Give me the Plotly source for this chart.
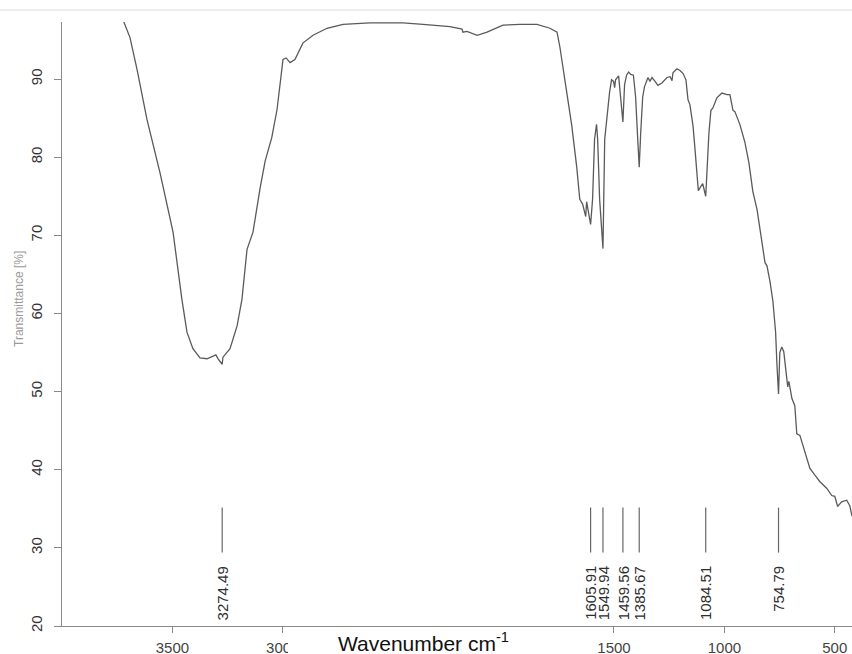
import plotly.graph_objects as go

# IR spectrum: wavenumber (cm-1) and transmittance (%)
wavenumber = [
    3990, 3760, 3724, 3692, 3660, 3615, 3556, 3497, 3457, 3434, 3407, 3375, 3343,
    3316, 3303, 3293, 3274.5, 3271, 3239, 3207, 3185, 3162, 3135, 3103, 3080,
    3050, 3026, 2999, 2985, 2967, 2945, 2909, 2863, 2800, 2727, 2605, 2456,
    2365, 2243, 2188, 2184, 2166, 2120, 2075, 2003, 1926, 1849, 1790, 1758,
    1745, 1732, 1714, 1691, 1669, 1655, 1642, 1628, 1624, 1605.9, 1597, 1588,
    1579, 1574, 1565, 1549.9, 1542, 1533, 1520, 1511, 1502, 1497, 1493, 1479,
    1468, 1459.6, 1452, 1443, 1434, 1424, 1412, 1402, 1393, 1385.7, 1379, 1370,
    1362, 1355, 1346, 1337, 1328, 1314, 1301, 1283, 1260, 1246, 1237, 1233,
    1215, 1201, 1187, 1174, 1165, 1156, 1142, 1133, 1124, 1118, 1108, 1098,
    1084.5, 1078, 1070, 1061, 1052, 1034, 1011, 988, 975, 961, 952, 930, 907,
    889, 875, 871, 852, 830, 816, 807, 793, 780, 768, 762, 757, 754.8, 749,
    740, 731, 722, 713, 708, 694, 681, 672, 658, 636, 613, 590, 568, 536, 514,
    500, 487, 469, 446, 432, 423, 410,
]
transmittance = [
    99.8, 99.0, 97.6, 95.3, 91.2, 84.8, 78.0, 70.4, 61.8, 57.6, 55.5, 54.3, 54.2,
    54.6, 54.7, 54.2, 53.5, 54.4, 55.5, 58.4, 61.8, 68.2, 70.4, 76.0, 79.5,
    82.5, 86.1, 92.5, 92.7, 92.1, 92.5, 94.6, 95.6, 96.5, 97.0, 97.2, 97.2,
    97.0, 96.7, 96.4, 96.0, 96.1, 95.6, 96.0, 96.9, 97.0, 97.0, 96.5, 96.0,
    94.1, 91.6, 88.3, 84.0, 78.8, 74.6, 74.0, 72.4, 74.3, 71.4, 74.6, 82.3,
    84.2, 82.3, 74.6, 68.3, 82.3, 85.2, 88.3, 89.9, 89.7, 88.9, 89.9, 90.4,
    87.3, 84.5, 89.3, 90.5, 90.9, 90.6, 90.5, 87.7, 82.6, 78.7, 83.1, 87.7,
    89.0, 89.5, 90.2, 89.7, 90.2, 89.7, 89.2, 89.5, 90.2, 90.3, 89.8, 90.8,
    91.3, 91.1, 90.7, 89.9, 87.4, 86.7, 84.0, 81.0, 78.1, 75.7, 76.2, 76.6,
    75.0, 78.8, 83.1, 86.0, 86.3, 87.6, 88.2, 88.0, 88.0, 86.0, 85.8, 84.2, 81.9,
    79.3, 75.9, 75.6, 73.3, 69.5, 66.5, 66.1, 64.0, 61.5, 57.6, 53.5, 50.5, 49.7, 55.0,
    55.7, 55.1, 52.5, 50.6, 51.3, 49.1, 48.2, 44.6, 44.4, 42.3, 40.2, 39.3, 38.5, 37.6, 36.7,
    36.6, 35.3, 35.9, 36.1, 35.4, 34.2, 33.5,
]

# Labelled absorption bands
peak_positions = [3274.49, 1605.91, 1549.94, 1459.56, 1385.67, 1084.51, 754.79]
peak_labels = ["3274.49", "1605.91", "1549.94", "1459.56", "1385.67", "1084.51", "754.79"]
marker_top = 35.15
marker_bottom = 29.4
label_top = 27.9

# the 2500 and 2000 labels sit under the caption strip, so they are left blank
x_ticks = [3500, 3000, 2500, 2000, 1500, 1000, 500]
x_tick_text = ["3500", "3000", "", "", "1500", "1000", "500"]
y_ticks = [20, 30, 40, 50, 60, 70, 80, 90]

W, H = 852, 654
ML, MR, MT, MB = 62, 0, 22, 28
PW, PH = W - ML - MR, H - MT - MB


def px_to_paper_x(px):
    return (px - ML) / PW


def px_to_paper_y(py):
    return (H - MB - py) / PH


fig = go.Figure()
fig.add_trace(go.Scatter(
    x=wavenumber, y=transmittance, mode="lines",
    line=dict(color="#5a5a5a", width=1.3), showlegend=False, hoverinfo="skip",
))

shapes = []
annotations = []
for pos, lab in zip(peak_positions, peak_labels):
    shapes.append(dict(type="line", xref="x", yref="y", x0=pos, x1=pos,
                       y0=marker_bottom, y1=marker_top,
                       line=dict(color="#666666", width=1.2)))
    annotations.append(dict(x=pos, y=label_top, xref="x", yref="y", text=lab,
                            textangle=-90, showarrow=False, xanchor="center",
                            yanchor="top",
                            font=dict(family="Liberation Sans, Arial", size=15,
                                      color="#2e2e2e")))

# thin frame line along the top of the sheet
shapes.append(dict(type="line", xref="paper", yref="paper",
                   x0=px_to_paper_x(0), x1=1, y0=px_to_paper_y(10), y1=px_to_paper_y(10),
                   line=dict(color="#dcdcdc", width=1)))
# white strip behind the x-axis caption
shapes.append(dict(type="rect", xref="paper", yref="paper",
                   x0=px_to_paper_x(288), x1=px_to_paper_x(563),
                   y0=px_to_paper_y(627), y1=px_to_paper_y(670),
                   fillcolor="white", line=dict(width=0), layer="above"))

annotations.append(dict(x=px_to_paper_x(423), y=px_to_paper_y(641.5), xref="paper", yref="paper",
                        text="Wavenumber cm<sup>-1</sup>", showarrow=False,
                        xanchor="center", yanchor="middle",
                        font=dict(family="Liberation Sans, Arial", size=21, color="#111111")))
annotations.append(dict(x=px_to_paper_x(19), y=px_to_paper_y(299), xref="paper", yref="paper",
                        text="Transmittance [%]", showarrow=False, textangle=-90,
                        xanchor="center", yanchor="middle",
                        font=dict(family="Liberation Sans, Arial", size=12, color="#9a9a9a")))

fig.update_layout(
    width=W, height=H,
    margin=dict(l=ML, r=MR, t=MT, b=MB, pad=0, autoexpand=False),
    paper_bgcolor="white", plot_bgcolor="white",
    shapes=shapes, annotations=annotations,
    xaxis=dict(range=[4000, 422], tickvals=x_ticks, ticktext=x_tick_text,
               ticks="outside", ticklen=6, automargin=False,
               tickcolor="#888888", showline=True, linecolor="#8a8a8a", linewidth=1,
               showgrid=False, zeroline=False, ticklabelstandoff=2,
               tickfont=dict(family="Liberation Sans, Arial", size=15, color="#444444")),
    yaxis=dict(range=[20, 97.3], tickvals=y_ticks, ticks="outside", ticklen=7,
               automargin=False,
               tickcolor="#888888", showline=True, linecolor="#8a8a8a", linewidth=1,
               showgrid=False, zeroline=False, tickangle=-90, ticklabelstandoff=6,
               tickfont=dict(family="Liberation Sans, Arial", size=15, color="#333333")),
)

fig.write_html("out.html")
